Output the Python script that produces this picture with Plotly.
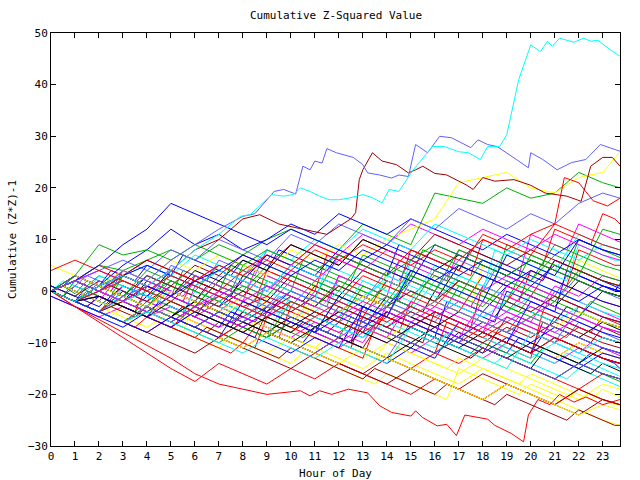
import plotly.graph_objects as go

# ---------------- data ----------------
HOURS = [0, 1, 2, 3, 4, 5, 6, 7, 8, 9, 10, 11, 12, 13, 14, 15, 16, 17, 18, 19, 20, 21, 22, 23, 23.72]
HALF_HOURS = [h / 2 for h in range(48)] + [23.72]
HOUR_TICKS = list(range(0, 24))
Y_TICKS = [-30, -20, -10, 0, 10, 20, 30, 40, 50]

PALETTE = {
    "r": "#ff0000", "g": "#00b000", "b": "#0000ff", "m": "#ff00ff", "c": "#00ffff",
    "d": "#a00000", "y": "#ffff00", "k": "#000000", "l": "#6060ff",
}

# hourly-sampled walks
s01 = [0, -2, -4, 1, -1, -3, -5, -2, -4, -6, -8, -5, -7, -9, -4, -6, -8, -10, -7, -9, -11, -13, -10, -12, -13]
s02 = [1, -1, 3, 1, -1, 2, 0, -2, -4, 1, -1, -3, 2, 0, -2, 4, 2, 0, -2, -4, 1, -1, -3, -5, -6]
s03 = [0, 2, 0, -2, 3, 1, -1, -3, 2, 0, 5, 3, 1, -1, -3, 2, 0, -2, -4, 1, -1, -3, -5, 0, -1]
s04 = [-1, -3, -5, -3, -5, -7, -4, -6, -8, -5, -7, -9, -11, -8, -10, -12, -9, -11, -13, -10, -12, -14, -11, -13, -14]
s05 = [0, -2, 1, -1, 3, 1, -1, -3, 0, -2, -4, -1, -3, -5, -2, -4, 2, 0, -2, -4, -1, -3, -5, -7, -8]
s06 = [0, -2, -4, -6, -3, -5, -7, -9, -6, -8, -10, -12, -9, -11, -4, -6, -8, -10, -12, -5, -7, -9, -11, -13, -14]
s07 = [1, -1, -3, -5, -7, -4, -6, -8, -10, -12, -9, -11, -13, -15, -12, -14, -16, -18, -15, -17, -19, -21, -23, -25, -26]
s08 = [0, 2, 0, -2, 1, -1, -3, 2, 0, -2, 3, 1, -1, 4, 2, 0, -2, 5, 3, 1, -1, -3, 2, 0, -1]
s09 = [0, -2, 1, -1, -3, 0, -2, -4, -1, -3, 2, 0, -2, -4, -1, -3, -5, -2, -4, -6, -3, -5, -7, -9, -10]
s10 = [0, 3, 1, -1, -3, 1, -1, -3, -5, -2, -4, -6, -8, -5, 2, 0, -2, -4, 3, 1, -1, 6, 4, 2, 1]
s11 = [0, -2, -4, -2, 1, -1, -3, 2, 0, 5, 3, 1, -1, -3, 1, -1, 3, 1, -1, -3, -5, -2, -4, -6, -7]
s12 = [-1, -3, -5, -7, -4, -6, -3, -5, -7, -9, -6, -8, -10, -12, -14, -11, -13, -6, -8, -10, -12, -5, -7, -9, -10]
s13 = [0, 2, 0, 3, 1, -1, -3, -1, -3, -5, -2, -4, -6, -3, -5, -7, -4, -6, -8, -5, -7, -9, -11, -13, -14]
s14 = [0, -2, -4, -1, -3, -5, -7, -4, -6, -8, -1, -3, -5, 2, 0, -2, 5, 3, 1, 8, 6, 4, 11, 9, 8]
s15 = [1, -1, 2, 0, -2, 1, -1, -3, 0, -2, -4, -1, -3, -5, -7, -4, -6, -8, -10, -7, -9, -6, -8, -10, -11]
s16 = [0, -2, 0, -2, -4, -2, -4, -6, -8, -5, -7, -9, -11, -13, -10, -12, -14, -16, -13, -15, -17, -19, -21, -18, -19]
s17 = [0, -2, -4, -6, -3, -5, -2, -4, -6, -8, -5, -7, -4, -6, -8, -10, -7, -9, -11, -13, -10, -12, -14, -11, -12]
s18 = [0, 2, 0, 4, 2, 0, -2, 3, 1, -1, -3, 2, 0, -2, 4, 2, 0, 6, 4, 2, 0, -2, 3, 1, 0]
s19 = [0, -2, -4, -6, -8, -5, -7, -9, -6, -8, -10, -12, -9, -11, -13, -15, -12, -14, -11, -13, -15, -17, -19, -16, -17]
s20 = [0, -2, 1, -1, -3, 2, 0, 5, 3, 1, -1, -3, 1, -1, -3, 3, 1, -1, -3, 2, 0, -2, 4, 2, 1]
s21 = [1, -1, -3, 1, -1, 4, 2, 0, -2, -4, 0, -2, -4, -6, -3, -5, -7, -9, -6, -8, -10, -7, -9, -11, -12]
s22 = [0, -2, -1, -3, -5, -3, -5, -7, -5, -7, -9, -6, -8, -10, -3, -5, -7, -9, -2, -4, -6, 1, -1, 3, 2]
s23 = [0, 2, 4, 2, 0, 3, 1, -1, 2, 0, -2, -4, 0, -2, 3, 1, -1, -3, -5, -2, -4, -6, -3, -5, -6]
s24 = [0, -2, -4, -6, -3, -5, -7, -9, -11, -8, -10, -12, -14, -16, -13, -15, -17, -19, -21, -18, -20, -22, -24, -21, -22]
s25 = [0, 2, 0, -2, -4, -1, -3, -5, -2, -4, -6, -3, -5, -7, -9, -6, -8, -10, -12, -9, -11, -13, -10, -12, -13]
s26 = [0, -2, 1, -1, -3, -5, -2, -4, -6, -3, -5, -7, -4, -1, -3, -5, -7, -4, -6, -8, -5, -7, -9, -6, -7]
s27 = [0, -2, -4, -1, -3, -5, -7, -4, -6, -8, -10, -12, -9, -11, -13, -6, -8, -10, -4, -6, -8, -10, -3, -5, -6]
s28 = [0, 2, 5, 3, 1, -1, 3, 1, -1, 4, 2, 0, -2, 3, 1, -1, -3, 2, 0, -2, 4, 2, 0, -2, -3]
s29 = [0, -2, 0, -2, -4, -6, -3, -5, -7, -9, -6, -8, -1, -3, -5, 3, 1, -1, 6, 4, 2, 9, 7, 5, 4]
s30 = [0, -2, -1, -3, -5, -7, -4, -6, -8, -10, -12, -9, -11, -3, -5, -7, -4, -6, -8, -10, -2, -4, -6, -8, -9]
s31 = [0, 2, 5, 4, 6, 8, 6, 9, 7, 10, 12, 10, 8, 13, 11, 9, 19, 18, 17, 20, 18, 19, 23, 21, 20]
s32 = [0, 3, 1, 5, 8, 12, 9, 11, 8, 10, 13, 11, 15, 13, 11, 14, 12, 10, 8, 11, 9, 7, 10, 8, 7]
s33 = [0, -2, 1, 3, 1, 4, 2, 5, 3, 7, 5, 9, 7, 11, 9, 13, 11, 9, 12, 10, 8, 11, 9, 7, 6]
s34 = [0, 2, 0, 3, 5, 3, 7, 5, 3, 8, 6, 10, 8, 12, 10, 8, 13, 11, 9, 7, 10, 8, 6, 9, 8]
s35 = [0, -2, 1, -1, 3, 1, 5, 3, 7, 5, 9, 7, 5, 10, 8, 6, 11, 9, 7, 5, 8, 6, 4, 2, 1]
s36 = [5, 3, 1, 4, 2, 6, 4, 7, 5, 3, 8, 6, 9, 7, 10, 12, 14, 21, 22, 23, 20, 19, 22, 23, 27]
s37 = [0, 2, 0, -2, 1, -1, 4, 2, 6, 4, 9, 7, 5, 10, 8, 6, 4, 7, 5, 3, 6, 4, 2, 0, -1]
s38 = [0, 2, 4, 6, 4, 8, 6, 10, 8, 6, 11, 9, 13, 11, 9, 14, 12, 16, 14, 12, 15, 13, 17, 19, 18]
s39 = [0, 2, 0, 3, 6, 4, 2, 0, 4, 7, 5, 9, 7, 5, 3, 8, 6, 4, 11, 9, 7, 13, 11, 9, 8]
s40 = [0, -2, 1, -1, 4, 2, 0, -2, 1, -1, 4, 2, 0, 6, 4, 2, 0, 8, 6, 4, 2, 7, 5, 3, 2]
s41 = [0, 2, 0, 3, 5, 3, 1, 4, 2, 7, 5, 3, 8, 6, 4, 2, 9, 7, 5, 3, 1, 5, 3, 1, 0]
s42 = [0, 2, 4, 2, 0, 3, 1, -1, 2, 0, 4, 2, 6, 4, 8, 6, 4, 2, 0, 3, 1, -1, -3, -5, -6]
s43 = [0, -2, 0, 2, 0, 3, 1, 4, 2, 0, 5, 3, 1, -1, 2, 0, -2, 3, 1, -1, 2, 0, -2, -4, -5]
s44 = [0, -2, -4, -2, 0, -2, 2, 0, -2, -4, -1, -3, 1, -1, -3, 0, -2, 2, 0, -2, -4, -1, -3, -5, -6]
s45 = [0, -2, 1, -1, -3, 0, -2, -4, -1, -3, -5, -2, -4, -1, -3, -5, -2, -4, -6, -8, -5, -7, -4, -6, -7]
s46 = [0, -2, -4, -6, -3, -5, -7, -4, -6, -8, -10, -7, -9, -11, -13, -10, -12, -9, -11, -13, -15, -17, -14, -16, -17]
s47 = [0, -2, -4, -1, 1, -1, 3, 1, -1, -3, 0, -2, -4, -6, -3, -5, -2, -4, -6, -8, -5, -7, -9, -11, -12]
s48 = [0, -3, -6, -9, -12, -15, -17.5, -14, -16, -18, -15, -17, -14, -16, -18, -20, -17, -19, -21, -18, -20, -22, -19, -21, -22]
s49 = [0, -2, -4, -6, -4, -6, -8, -10, -7, -9, -2, -4, -6, 1, -1, -3, 4, 2, 0, -2, 7, 5, 3, 12, 11]
s50 = [0, 2, 0, -2, -4, -1, -3, -5, -7, -4, -6, -8, -5, -7, -4, -6, -8, -10, -12, -9, -11, -13, -15, -12, -13]
s51 = [0, -2, 0, -2, -4, -6, -3, -5, -7, -4, -6, -8, -10, -7, -9, -2, -4, -6, -8, 1, -1, -3, -5, -7, -8]
s52 = [0, 2, 0, -2, 0, -2, -4, -1, -3, -5, -3, -5, -7, -9, -6, -8, -10, -7, -9, -11, -13, -10, -12, -14, -15]
s53 = [0, -2, -4, -6, -8, -10, -12, -9, -11, -13, -15, -12, -14, -16, -18, -15, -17, -19, -16, -18, -20, -22, -19, -21, -22]
s54 = [0, -2, -4, -6, -3, -5, -7, -9, -11, -8, -10, -12, -14, -11, -13, -15, -17, -19, -21, -18, -20, -22, -24, -22, -23]
s55 = [0, -2, -1, -3, -5, -2, -4, -6, -8, -5, -7, -4, -6, -8, -10, -7, -9, -11, -8, -10, -12, -9, -11, -13, -14]
s56 = [0, -2, -4, -6, -3, -5, -7, -4, -6, -3, -5, -7, -9, -6, -8, -10, -12, -9, -11, -13, -15, -17, -14, -16, -17]
s57 = [4, 6, 4, 2, 0, 3, 1, -1, -3, -1, -3, -5, -2, -4, -6, -3, -5, -7, -9, -6, -8, -10, -7, -9, -10]
s58 = [0, 3, 9, 7, 8, 6, 9, 7, 5, 8, 6, 4, 7, 5, 3, 6, 9, 7, 5, 3, 6, 4, 2, 0, -1]
s59 = [0, 2, 5, 9, 12, 17, 15, 13, 11, 9, 12, 10, 8, 6, 9, 7, 5, 3, 6, 4, 2, 0, -2, 1, 0]
s60 = [0, 2, 0, -2, 1, -1, -3, 0, -2, 1, -1, -3, -5, -2, -4, -6, -3, -5, -7, -4, -6, -8, -5, -7, -8]
s61 = [0, -2, -4, -6, -4, -6, -8, -10, -12, -9, -11, -13, -10, -12, -14, -7, -9, -11, -13, -15, -8, -10, -12, -9, -10]
s62 = [0, -2, -4, -6, -8, -5, -7, -9, -2, -4, -6, -8, -1, -3, -5, 4, 2, 0, -2, 7, 5, 3, 10, 8, 7]
s63 = [0, -2, 0, 2, 0, -2, -4, -1, -3, -5, -2, -4, -6, -8, -5, -7, -4, -6, -8, -10, -12, -9, -11, -13, -14]
s64 = [0, -2, 1, 3, 1, -1, 2, 4, 7, 5, 3, 6, 4, 8, 6, 4, 2, 5, 3, 1, 4, 2, 0, -2, -3]

HOURLY_SERIES = [s01, s02, s03, s04, s05, s06, s07, s08, s09, s10, s11, s12, s13, s14, s15, s16,
                 s17, s18, s19, s20, s21, s22, s23, s24, s25, s26, s27, s28, s29, s30, s31, s32,
                 s33, s34, s35, s36, s37, s38, s39, s40, s41, s42, s43, s44, s45, s46, s47, s48,
                 s49, s50, s51, s52, s53, s54, s55, s56, s57, s58, s59, s60, s61, s62, s63, s64]
HOURLY_COLORS = list("rgbmcdykl" "rgbmcdykl" "rgbmcdykl" "rgb" "gbmcdyklr" "gbmcdyklr" "gbmcdyklr" "gbmcbrb")

# half-hour-sampled walks
h01 = [0, -1, -2, 1, 0, -1, -2, -3, -1, -2, -3, -4, -5, -2, -3, -4, -5, -6, -3, -4, -5, -6, -7, -8, -6, -7, -8, -4, -5, -6, -7, -8, -9, -10, -8, -9, -10, -11, -12, -9, -10, -11, -12, -13, -14, -12, -13, -14, -15]
h02 = [0, -1, -2, -3, -4, -2, -3, -4, -5, -6, -7, -5, -6, -7, -8, -9, -10, -7, -8, -9, -3, -4, -5, -6, -3, -4, -5, -6, -7, -8, -2, -3, -4, -5, -6, -7, 1, 0, -1, -2, 4, 3, 2, 1, 8, 7, 6, 5, 5]
h03 = [0, 1, -0.5, 2, 1, 0, 3, 2, 1, 0, -1, 4, 3, 2, 1, 0, 5, 4, 3, 2, 1, 0, -1, 3, 2, 1, 0, -1, 2, 1, 0, -1, -2, -3, 1, 0, -1, -2, -3, -4, -1, -2, -3, -4, -5, -2, -3, -4, -4.5]
h04 = [0, -1, -2, -3, -1, -2, -3, -4, -5, -3, -4, -5, 1, 0, -1, -2, -3, -4, 2, 1, 0, -1, -2, -3, 3, 2, 1, 0, -1, 6, 5, 4, 3, 2, 8, 7, 6, 5, 4, 3, 11, 10, 9, 8, 13, 12, 11, 10, 9.5]
h05 = [0, -1, 2, 1, 0, -1, -2, 0, -1, -2, -3, -4, -2, -3, -4, -5, -6, -3, -4, -5, -6, -7, -5, -6, -7, -8, -9, -6, -7, -8, -9, -10, -11, -8, -9, -10, -11, -12, -10, -11, -12, -13, -14, -12, -13, -14, -15, -16, -16.5]
h06 = [0, -1, 1, 0, -1, -2, 0, -1, 2, 1, 0, -1, -2, 1, 0, -1, 3, 2, 1, 0, -1, -2, 1, 0, -1, -2, -3, -4, -1, -2, -3, -4, 0, -1, -2, -3, -4, -5, -2, -3, -4, -5, -6, -3, -4, -5, -6, -7, -7.5]
h07 = [0, -1, -2, -3, -4, -5, -3, -4, -5, -6, -7, -8, -2, -3, -4, -5, -6, -7, -1, -2, -3, -4, 2, 1, 0, -1, -2, -3, 4, 3, 2, 1, 0, -1, -2, -3, 5, 4, 3, 2, 1, 0, -1, -2, 6, 5, 4, 3, 2.5]
h08 = [0, 1, 0, -1, 2, 1, 0, -1, -2, 1, 0, -1, -2, -3, 0, -1, -2, -3, -4, -1, -2, -3, 0, -1, -2, -3, -4, -5, -2, -3, -4, -5, -6, -3, -4, -5, -6, -7, -8, -5, -6, -7, -8, -9, -6, -7, -8, -9, -9.5]
h09 = [0, -1, -2, -1, -2, -3, -4, -5, -3, -4, -5, -6, -7, -8, -6, -7, -8, -9, -4, -5, -6, -7, -8, -9, -10, -11, -5, -6, -7, -8, -9, -10, -4, -5, -6, -7, -8, -9, -10, -11, -12, -6, -7, -8, -9, -10, -7, -8, -8.5]
h10 = [0, 1, 3, 2, 1, 4, 3, 2, 5, 4, 3, 7, 6, 5, 4, 3, 6, 5, 4, 8, 7, 6, 5, 4, 7, 6, 5, 4, 3, 9, 8, 7, 6, 5, 4, 8, 7, 6, 5, 4, 3, 2, 6, 5, 4, 3, 2, 1, 0.5]
h11 = [0, -1, -2, -3, -1, -2, -3, -4, 1, 0, -1, -2, 3, 2, 1, 0, -1, -2, 4, 3, 2, 1, 0, 7, 6, 5, 4, 3, 2, 1, 8, 7, 6, 5, 4, 3, 10, 9, 8, 7, 6, 5, 12, 11, 10, 9, 15, 14, 13]
h12 = [0, -1, -2, 0, -1, -2, -3, -4, -2, -3, -4, -5, -3, -4, -5, -6, -4, -5, -6, -7, -8, -9, -7, -8, -9, -5, -6, -7, -8, -9, -7, -8, -9, -10, -11, -12, -10, -11, -12, -13, -14, -11, -12, -13, -14, -15, -16, -17, -17.5]
h13 = [0, 1, 0, -1, -2, 1, 0, -1, -2, -3, 0, -1, -2, -3, -4, -2, -3, -4, -5, -2, -3, -4, -5, -6, -3, -4, -5, -6, -7, -5, -6, -7, -8, -9, -6, -7, -8, -9, -10, -7, -8, -9, -10, -11, -12, -10, -11, -12, -12.5]
h14 = [0, 2, 1, 0, 3, 2, 1, 0, -1, -2, 1, 0, -1, -2, -3, -4, -2, -3, -4, -5, -6, -4, -5, -6, -7, -8, -9, -7, -8, -9, -10, -11, -12, -10, -11, -12, -13, -14, -12, -13, -14, -15, -16, -17, -15, -16, -17, -18, -18.5]
h15 = [0, -1, -2, -3, -4, -5, -6, -4, -5, -6, -7, -8, -9, -10, -11, -9, -10, -11, -12, -13, -14, -12, -13, -14, -15, -16, -17, -18, -16, -17, -18, -19, -20, -21, -15, -16, -17, -18, -19, -20, -18, -19, -20, -21, -19, -20, -21, -22, -22]
h16 = [0, 1, 0, -1, -2, -3, -1, -2, -3, -4, -5, -3, -4, -5, -6, -7, -4, -5, -6, -7, -8, -6, -7, -8, -9, -10, -7, -8, -9, -10, -11, -9, -10, -11, -12, -13, -11, -12, -13, -14, -15, -12, -13, -14, -15, -16, -14, -15, -15.5]
h17 = [0, -1, 1, 3, 2, 1, 4, 3, 2, 1, 5, 4, 3, 2, 6, 5, 4, 3, 8, 7, 6, 5, 4, 3, 7, 6, 5, 4, 3, 2, 6, 5, 4, 3, 2, 1, 0, 4, 3, 2, 1, 0, -1, 3, 2, 1, 0, -1, -1.5]
h18 = [0, -1, -2, -3, -4, -2, -3, -4, -5, -6, -7, -8, -9, -7, -8, -9, -10, -11, -12, -13, -11, -12, -13, -14, -15, -16, -17, -15, -16, -17, -18, -19, -20, -18, -19, -20, -21, -22, -20, -21, -22, -23, -24, -25, -23, -24, -25, -26, -26]
h19 = [0, -1, -2, -3, -1, -2, -3, -4, -5, -2, -3, -4, -5, -6, -7, -4, -5, -6, -7, -8, -9, -10, -7, -8, -9, -10, -3, -4, -5, -6, -7, -8, -9, -2, -3, -4, -5, -6, 0, -1, -2, -3, -4, 4, 3, 2, 1, 0, 1.5]
h20 = [0, -1, -2, -3, -4, -5, -6, -7, -5, -6, -7, -8, -9, -10, -11, -12, -10, -11, -5, -6, -7, -8, -9, -10, -11, -12, -13, -7, -8, -9, -10, -11, -12, -6, -7, -8, -9, -10, -11, -12, -13, -4, -5, -6, -7, -8, -5, -6, -6.5]
h21 = [0, -1, 2, 1, 0, -1, 3, 2, 1, 0, 4, 3, 2, 1, 0, 5, 4, 3, 2, 1, 0, 6, 5, 4, 3, 2, 7, 6, 5, 4, 3, 8, 7, 6, 5, 4, 3, 2, 9, 8, 7, 6, 5, 4, 10, 9, 8, 7, 6.5]
h22 = [0, 1, 3, 2, 1, 0, 4, 3, 2, 1, 0, -1, 2, 1, 0, -1, -2, 4, 3, 2, 1, 0, -1, -2, 3, 2, 1, 0, -1, -2, 2, 1, 0, -1, -2, -3, 1, 0, -1, -2, -3, -4, 0, -1, -2, -3, -4, -5, -5.5]
h23 = [0, -1, -2, -1, -2, -3, 1, 0, -1, -2, -3, -4, 0, -1, -2, -3, -4, -5, 2, 1, 0, -1, -2, 5, 4, 3, 2, 1, 0, -1, 6, 5, 4, 3, 2, 1, 0, 8, 7, 6, 5, 4, 3, 2, 9, 8, 7, 6, 6]
h24 = [0, 1, 0, -1, -2, -3, -1, -2, -3, -4, -5, -6, -4, -5, -6, -7, -8, -6, -7, -8, -9, -10, -11, -9, -10, -11, -12, -13, -10, -11, -12, -13, -14, -15, -13, -14, -15, -16, -17, -18, -16, -17, -18, -19, -20, -21, -19, -20, -20.5]

HALF_SERIES = [h01, h02, h03, h04, h05, h06, h07, h08, h09, h10, h11, h12,
               h13, h14, h15, h16, h17, h18, h19, h20, h21, h22, h23, h24]
HALF_COLORS = list("brgmckyldbrgmcykldbrgmcy")

# notable walks, read at finer resolution
cyan_top_x = [0, 1, 2, 3, 4, 5, 6, 7, 7.9, 8.3, 8.6, 9.2, 9.7, 10.1, 10.4, 10.8, 11.2, 11.6, 12, 12.4, 13,
              13.4, 13.8, 14.1, 14.5, 15.1, 15.9, 16.4, 17, 17.4, 17.9, 18.2, 18.7, 19, 19.5, 20, 20.4,
              20.7, 20.9, 21.2, 21.8, 22.2, 22.5, 22.8, 23.3, 23.72]
cyan_top_y = [0, -2, 1, 3, 1, 4, 8, 11, 14.5, 14.8, 16.1, 18.7, 18.4, 18.7, 20, 19.3, 18.4, 17.7, 17.7, 18,
              18.7, 18.1, 17.1, 19.7, 19.3, 23.5, 28, 28, 27, 26.8, 25.5, 28, 28, 30.3, 41, 47.7, 46.4,
              48.4, 47.4, 49, 48.2, 49, 48.4, 48.6, 46.8, 45.5]

blue_top_x = [0, 1, 2, 3, 4, 5, 6, 7, 8, 8.5, 9.3, 9.7, 10.2, 10.5, 10.8, 11, 11.3, 11.5, 11.9, 12.6, 13,
              13.2, 13.7, 14.2, 14.5, 14.9, 15.2, 15.7, 16.2, 16.7, 17.5, 17.8, 18.2, 18.6, 19.4, 19.9,
              20, 20.5, 21.1, 21.7, 22.3, 22.9, 23.72]
blue_top_y = [0, 2, 0, 4, 2, 6, 9, 12, 14.5, 15, 19.3, 19.7, 18.8, 24.2, 23.5, 25.2, 24.8, 27.6, 26.8, 25.9,
              24.5, 22.9, 22.5, 21.9, 22.5, 22.2, 28.4, 26.8, 30, 29.7, 27.8, 29.3, 28.4, 28, 25.5, 23.9,
              26.8, 25.5, 23.5, 24.9, 25.5, 28.4, 27.1]

darkred_jump_x = [0, 1, 2, 3, 4, 5, 6, 7, 8, 8.7, 9.5, 10.5, 11.5, 12.5, 12.7, 12.85, 13, 13.4, 13.8, 14.4,
                  14.9, 15.2, 15.5, 16, 16.5, 17, 17.3, 17.6, 18, 18.5, 19.3, 20, 20.6, 21.5, 22.1, 22.5,
                  23, 23.4, 23.72]
darkred_jump_y = [0, -2, 1, 3, 6, 4, 8, 10, 14, 14.8, 13, 12, 11, 14, 15.2, 21.6, 23.5, 26.8, 25.2, 24.5,
                  22.9, 23.5, 24.2, 22.8, 22.5, 21.3, 20.6, 19.7, 22, 21.3, 21.6, 20.5, 19, 18.4, 17.4, 24.2,
                  25.9, 25.9, 24.2]

red_bottom_x = [0, 1, 2, 3, 4, 5, 6, 7, 8, 9, 10, 10.4, 10.8, 11.2, 11.7, 12.4, 13.2, 13.7, 14.2, 15, 15.2,
                15.5, 16.1, 16.5, 16.9, 17.25, 18.2, 18.5, 19.2, 19.7, 19.9, 20.3, 20.8, 21.2, 21.8, 22.3,
                23, 23.72]
red_bottom_y = [0, -3, -5.5, -8, -10.5, -13, -16, -18, -19, -20, -19.5, -19.3, -20.3, -19.3, -20, -19, -19.7,
                -22.2, -23.5, -24.2, -23.2, -24.5, -26.1, -25.8, -28, -24, -24.8, -26, -27.6, -29.2, -24,
                -21, -22, -20, -21.5, -20.5, -22, -21]

red_upper_x = [0, 1, 2, 3, 4, 5, 6, 7, 8, 9, 10, 11, 12, 13, 14, 15, 16, 17, 18, 19, 20, 21, 21.4, 22, 22.6,
               23.2, 23.72]
red_upper_y = [0, 2, 0, 3, 1, 4, 2, 5, 3, 6, 4, 8, 6, 9, 7, 5, 8, 6, 10, 8, 11, 13, 22, 21, 17.5, 16.5, 18]

NOTABLE = [
    (red_bottom_x, red_bottom_y, "r"),
    (red_upper_x, red_upper_y, "r"),
    (darkred_jump_x, darkred_jump_y, "d"),
    (blue_top_x, blue_top_y, "l"),
    (cyan_top_x, cyan_top_y, "c"),
]

# ---------------- figure ----------------
FONT = "DejaVu Sans Mono"
fig = go.Figure()


def add_walk(xs, ys, ck):
    n = min(len(xs), len(ys))
    fig.add_trace(go.Scatter(x=xs[:n], y=ys[:n], mode="lines",
                             line=dict(color=PALETTE[ck], width=1), hoverinfo="skip"))


for i in range(max(len(HOURLY_SERIES), len(HALF_SERIES))):
    if i < len(HOURLY_SERIES):
        add_walk(HOURS, HOURLY_SERIES[i], HOURLY_COLORS[i])
    if i < len(HALF_SERIES):
        add_walk(HALF_HOURS, HALF_SERIES[i], HALF_COLORS[i])
for xs, ys, ck in NOTABLE:
    add_walk(xs, ys, ck)

fig.update_layout(
    width=640, height=480, autosize=False,
    margin=dict(l=51, r=20, t=33, b=34, pad=0),
    paper_bgcolor="white", plot_bgcolor="white",
    showlegend=False,
    font=dict(family=FONT, size=11, color="black"),
    title=dict(text="Cumulative Z-Squared Value", x=0.525, xanchor="center",
               y=1 - 15 / 480, yanchor="middle", yref="container",
               font=dict(family=FONT, size=11, color="black")),
    xaxis=dict(range=[0, 23.72], tickmode="array", tickvals=HOUR_TICKS,
               ticktext=[str(h) for h in HOUR_TICKS],
               ticks="inside", ticklen=5, tickwidth=1, tickcolor="black",
               showline=True, linecolor="black", linewidth=1, mirror="ticks",
               showgrid=False, zeroline=False, automargin=False,
               tickfont=dict(family=FONT, size=11),
               title=dict(text="Hour of Day", standoff=8, font=dict(family=FONT, size=11))),
    yaxis=dict(range=[-30, 50], tickmode="array", tickvals=Y_TICKS,
               ticks="inside", ticklen=5, tickwidth=1, tickcolor="black",
               showline=True, linecolor="black", linewidth=1, mirror="ticks",
               showgrid=False, zeroline=False, automargin=False,
               tickfont=dict(family=FONT, size=11),
               title=dict(text="Cumulative (Z*Z)-1", standoff=9, font=dict(family=FONT, size=11))),
)

fig.write_html("out.html")
